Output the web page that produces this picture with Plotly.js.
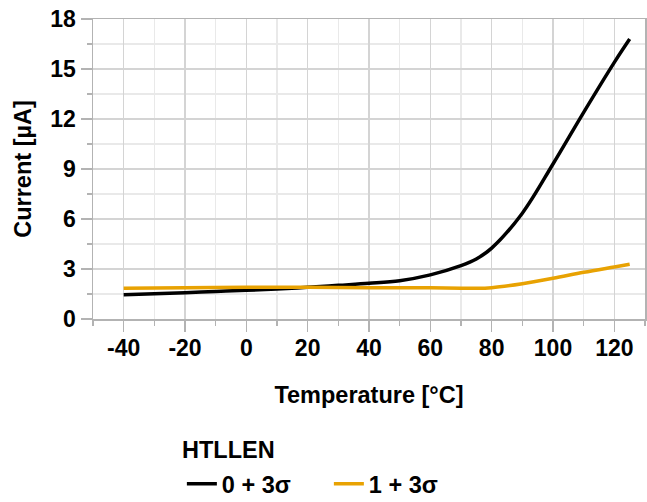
<!DOCTYPE html>
<html>
<head>
<meta charset="utf-8">
<script src="https://cdn.plot.ly/plotly-3.0.1.min.js"></script>
<style>html,body{margin:0;padding:0;background:#fff;}#chart{width:647px;height:502px;}</style>
</head>
<body>
<div id="chart"></div>
<script>
// Temperature (°C)
const tempBlack = [-40, -30, -20, -10, 0, 10, 20, 30, 40, 50, 60, 70, 75, 80, 90, 100, 110, 120, 125];
const currBlack = [1.45, 1.52, 1.58, 1.65, 1.72, 1.8, 1.9, 2.02, 2.14, 2.3, 2.65, 3.2, 3.6, 4.25, 6.35, 9.3, 12.4, 15.4, 16.8];
const tempOrange = [-40, -20, 0, 20, 40, 60, 70, 75, 80, 90, 100, 110, 120, 125];
const currOrange = [1.84, 1.87, 1.9, 1.9, 1.88, 1.88, 1.85, 1.84, 1.88, 2.12, 2.44, 2.8, 3.12, 3.28];
const seriesNames = ['0 + 3σ', '1 + 3σ'];
const legendTitle = 'HTLLEN';
const xTitle = 'Temperature [°C]';
const yTitle = 'Current [µA]';
const xTickVals = [-40, -20, 0, 20, 40, 60, 80, 100, 120];
const xTickText = ['-40', '-20', '0', '20', '40', '60', '80', '100', '120'];
const yTickVals = [0, 3, 6, 9, 12, 15, 18];
const yTickText = ['0', '3', '6', '9', '12', '15', '18'];

const FONT = 'Liberation Sans, Arial, sans-serif';
const tickFont = {family: FONT, size: 23, color: '#000', weight: 'bold'};
const font = {family: FONT, size: 23.5, color: '#000', weight: 'bold'};

const traces = [
  {x: tempBlack, y: currBlack, name: seriesNames[0], mode: 'lines',
   line: {color: '#000000', width: 3.5, shape: 'spline', smoothing: 1}},
  {x: tempOrange, y: currOrange, name: seriesNames[1], mode: 'lines',
   line: {color: '#E8A202', width: 3.5, shape: 'spline', smoothing: 1}}
];

const axisCommon = {
  showline: true, mirror: true, linecolor: '#b3b3b3', linewidth: 1.5,
  showgrid: true, gridcolor: '#d4d4d4', gridwidth: 1.5,
  zeroline: false,
  ticks: 'outside', ticklen: 11, tickwidth: 1.5, tickcolor: '#b3b3b3',
  tickfont: tickFont, tickmode: 'array'
};

const layout = {
  width: 647, height: 502,
  margin: {l: 93, r: 2, t: 19, b: 183, autoexpand: false},
  paper_bgcolor: '#ffffff', plot_bgcolor: '#ffffff',
  font: font,
  showlegend: true,
  xaxis: Object.assign({}, axisCommon, {
    range: [-50, 130], tickvals: xTickVals, ticktext: xTickText,
    ticklabelstandoff: -3,
    minor: {dtick: 10, tick0: -50, showgrid: true, gridcolor: '#e9e9e9', gridwidth: 1.5,
            ticks: 'outside', ticklen: 5, tickwidth: 1.5, tickcolor: '#b3b3b3'},
    title: {text: xTitle, font: font, standoff: 26}
  }),
  yaxis: Object.assign({}, axisCommon, {
    range: [0, 18], tickvals: yTickVals, ticktext: yTickText,
    minor: {dtick: 1.5, tick0: 0, showgrid: true, gridcolor: '#e9e9e9', gridwidth: 1.5,
            ticks: 'outside', ticklen: 5, tickwidth: 1.5, tickcolor: '#b3b3b3'},
    title: {text: yTitle, font: font, standoff: 12}
  }),
  legend: {
    orientation: 'h', x: 0.161, xanchor: 'left', y: -0.55, yanchor: 'middle',
    font: font, bgcolor: 'rgba(0,0,0,0)', entrywidth: 102, entrywidthmode: 'pixels'
  },
  annotations: [{
    text: legendTitle, xref: 'paper', yref: 'paper', x: 0.158, y: -0.437,
    xanchor: 'left', yanchor: 'middle', showarrow: false, font: font
  }]
};

Plotly.newPlot('chart', traces, layout, {displayModeBar: false, staticPlot: true});
</script>
</body>
</html>
